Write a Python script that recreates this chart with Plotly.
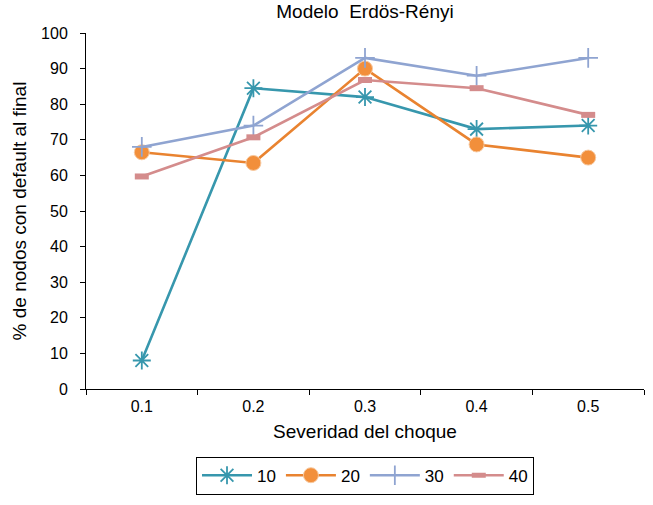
import plotly.graph_objects as go

categories = ["0.1", "0.2", "0.3", "0.4", "0.5"]
series_names = ["10", "20", "30", "40"]
s10 = [8, 84.5, 82, 73, 74]
s20 = [66.5, 63.5, 90, 68.7, 65]
s30 = [68, 74, 93, 88, 93]
s40 = [59.7, 70.7, 86.8, 84.5, 77]
y_ticks = list(range(0, 101, 10))

colors = ["#3797ad", "#e98330", "#8fa4d1", "#d48c8c"]
symbols = ["asterisk-open", "circle", "cross-thin-open", "line-ew-open"]
sizes = [15, 15, 14, 10]

fig = go.Figure()
for name, vals, col, sym, sz in zip(series_names, [s10, s20, s30, s40], colors, symbols, sizes):
    if sym == "circle":
        marker = dict(symbol=sym, size=sz, color="#f28f3b", line=dict(color="#f7c9a0", width=1))
    elif sym == "line-ew-open":
        marker = dict(symbol=sym, size=sz, color=col, line=dict(color=col, width=6))
    else:
        marker = dict(symbol=sym, size=sz, color=col, line=dict(color=col, width=1.8))
    fig.add_trace(go.Scatter(
        x=categories, y=vals, name=name, mode="lines+markers",
        line=dict(color=col, width=2.6), marker=marker,
    ))

fig.update_layout(
    width=653, height=505,
    margin=dict(l=86, r=9, t=33, b=116, autoexpand=False),
    paper_bgcolor="white", plot_bgcolor="white",
    font=dict(family="Liberation Sans, Arial, sans-serif", size=16, color="black"),
    title=dict(text="Modelo\u00a0\u00a0Erdös-Rényi", x=0.5, xanchor="center",
               xref="paper", y=0.99, yanchor="top", font=dict(size=19)),
    xaxis=dict(
        type="category", range=[-0.5, 4.5], tickson="boundaries",
        ticks="outside", ticklen=5, tickwidth=1, tickcolor="black",
        showline=True, linecolor="black", linewidth=1, showgrid=False,
        title=dict(text="Severidad del choque", font=dict(size=19), standoff=10),
        tickfont=dict(size=16), automargin=False, ticklabelstandoff=3,
    ),
    yaxis=dict(
        range=[0, 100], tickvals=y_ticks, ticks="outside", ticklen=5,
        tickwidth=1, tickcolor="black", showline=True, linecolor="black",
        linewidth=1, showgrid=False, zeroline=False,
        title=dict(text="% de nodos con default al final", font=dict(size=19), standoff=9),
        tickfont=dict(size=16), automargin=False, ticklabelstandoff=9,
    ),
    legend=dict(
        orientation="h", x=0.5, xanchor="center", y=-0.19, yanchor="top",
        bordercolor="black", borderwidth=1, font=dict(size=17),
        itemwidth=50, tracegroupgap=0,
    ),
)

fig.write_html("out.html", config={"displayModeBar": False},
               post_script="document.body.style.margin='0';")
